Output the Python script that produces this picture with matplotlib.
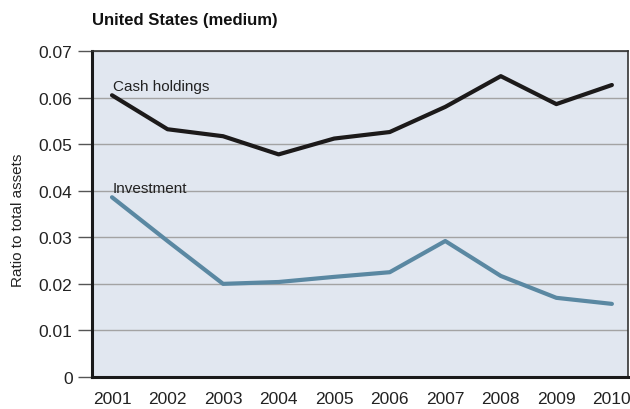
import matplotlib.pyplot as plt

plt.rcParams['font.family'] = ['Liberation Sans', 'DejaVu Sans']

years = [2001, 2002, 2003, 2004, 2005, 2006, 2007, 2008, 2009, 2010]
cash = [0.0605, 0.0532, 0.0517, 0.0478, 0.0512, 0.0526, 0.0580, 0.0646, 0.0586, 0.0627]
investment = [0.0386, 0.0292, 0.0200, 0.0204, 0.0215, 0.0225, 0.0292, 0.0217, 0.0170, 0.0157]
yticks = [0, 0.01, 0.02, 0.03, 0.04, 0.05, 0.06, 0.07]
ytick_labels = ['0', '0.01', '0.02', '0.03', '0.04', '0.05', '0.06', '0.07']

fig = plt.figure(figsize=(6.3, 4.1), dpi=100)
ax = fig.add_axes([92 / 630, 32 / 410, 536 / 630, 326 / 410])
ax.set_facecolor('#e1e7f0')

ax.plot(years, cash, color='#1c1a1a', lw=3, solid_joinstyle='round', solid_capstyle='round', zorder=3)
ax.plot(years, investment, color='#5a88a2', lw=3, solid_joinstyle='round', solid_capstyle='round', zorder=3)

ax.text(2001.02, 0.0617, 'Cash holdings', fontsize=11, color='#222222', va='baseline')
ax.text(2001.02, 0.0397, 'Investment', fontsize=11, color='#222222', va='baseline')

ax.set_xlim(2000.64, 2010.29)
ax.set_ylim(0, 0.07)
ax.set_xticks(years)
ax.set_yticks(yticks)
ax.set_yticklabels(ytick_labels)
ax.yaxis.grid(True, color='#a3a3a3', lw=1)
ax.set_axisbelow(True)

ax.tick_params(axis='y', direction='out', length=10, width=1, color='#555555', labelsize=12.5, pad=4, labelcolor='#222222')
ax.tick_params(axis='x', length=0, labelsize=12.5, pad=10, labelcolor='#222222')

for side in ['left', 'bottom']:
    ax.spines[side].set_linewidth(2.2)
    ax.spines[side].set_color('#1a1a1a')
for side in ['top', 'right']:
    ax.spines[side].set_linewidth(1.2)
    ax.spines[side].set_color('#333333')

fig.text(18 / 630, 1 - 220 / 410, 'Ratio to total assets', fontsize=11, color='#222222',
         rotation=90, ha='center', va='center')
fig.text(92 / 630, 1 - 20 / 410, 'United States (medium)', fontsize=12, fontweight='bold',
         color='#111111', va='center', ha='left')

fig.savefig('out.png', dpi=100)
